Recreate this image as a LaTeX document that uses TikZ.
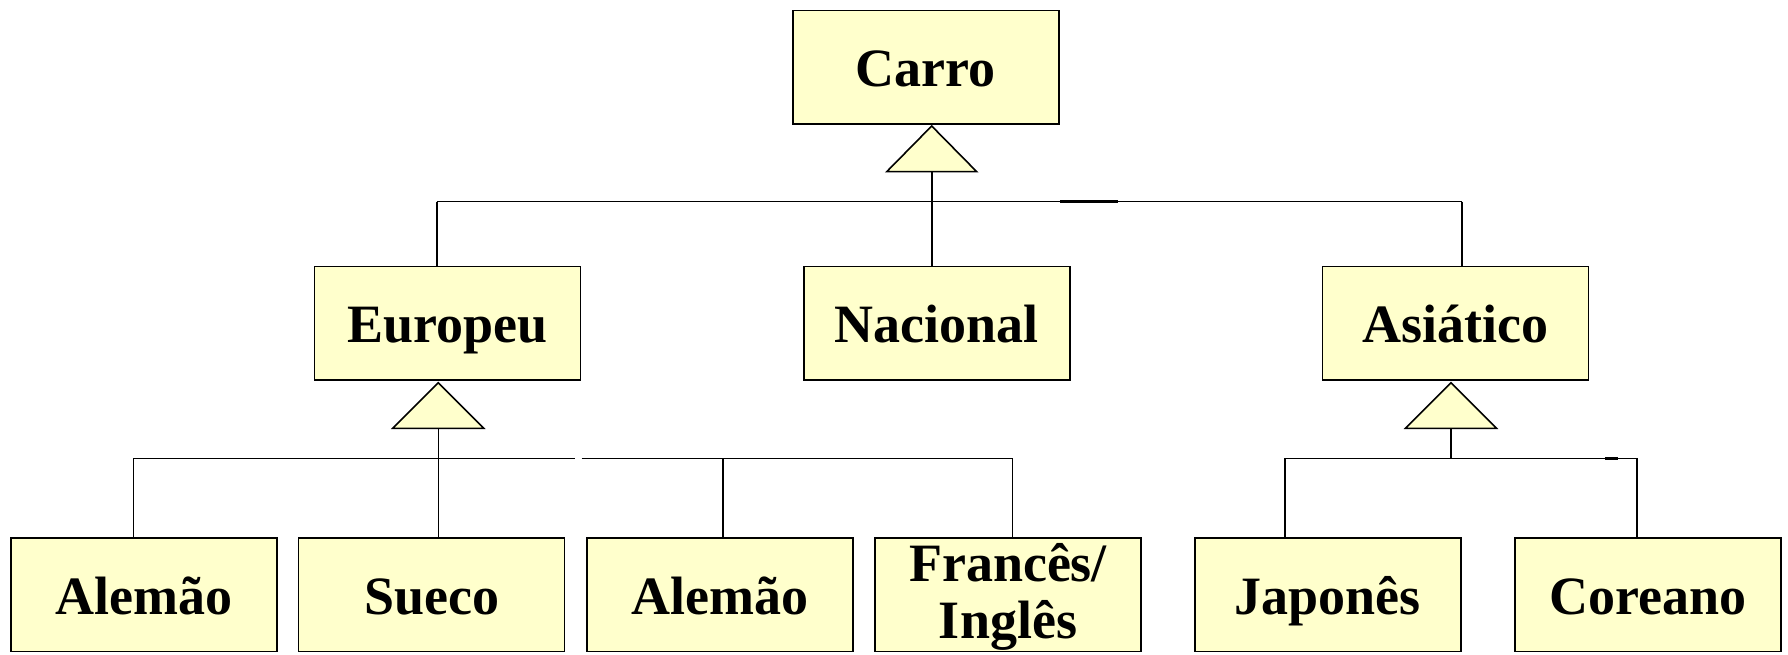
\documentclass[tikz,border=0pt]{standalone}
\usepackage{fontspec}
\setmainfont{Liberation Serif}
\definecolor{boxfill}{HTML}{FFFFCC}
\begin{document}
\begin{tikzpicture}[x=1pt,y=-1pt,
  cls/.style={draw=black,fill=boxfill,line width=1.6pt,minimum width=266pt,minimum height=113.5pt,inner sep=0pt,
    font=\fontsize{54}{57}\selectfont\bfseries,text height=39pt,text depth=0pt},
  tri/.style={draw=black,fill=boxfill,line width=1.6pt,line join=miter},
  lnk/.style={draw=black,line width=1.6pt},
  lnkdark/.style={draw=black,line width=2.6pt}]
\useasboundingbox (0,0) rectangle (1788,655);
% classes
\node[cls] (carro) at (925.8,67.2) {Carro};
\node[cls] (eur) at (447.5,323.2) {Europeu};
\node[cls] (nac) at (936.8,323.2) {Nacional};
\node[cls] (asi) at (1455.5,323.2) {Asiático};
\node[cls] (al1) at (144.2,594.7) {Alemão};
\node[cls] (sue) at (431.6,594.7) {Sueco};
\node[cls] (al2) at (720.1,594.7) {Alemão};
\node[cls] (fra) at (1008,594.7) {};
\node[font=\fontsize{54}{57}\selectfont\bfseries,align=center,inner sep=0pt] (fratxt) at (1008,597) {Francês/\\Inglês};
\node[cls] (jap) at (1327.9,594.7) {Japonês};
\node[cls] (cor) at (1648.2,594.7) {Coreano};
% generalisation 1
\coordinate (t1) at (931.7,126);
\coordinate (t1b) at (931.7,171.7);
\coordinate (b1L) at (436.7,201.7);
\coordinate (b1R) at (1461.9,201.7);
\draw[lnk] (b1L) -- (b1R);
\draw[lnkdark] (1060,201.7) -- (1118,201.7);
\draw[lnk] (b1L) -- (b1L |- eur.north);
\draw[lnk] (b1R) -- (b1R |- asi.north);
\draw[lnk] (t1b) -- (t1b |- nac.north);
\draw[tri] (t1) -- ++(45,45.7) -- ++(-90,0) -- cycle;
% generalisation 2
\coordinate (t2) at (438.3,382.7);
\coordinate (t2b) at (438.3,428.3);
\coordinate (b2L) at (133.4,458.3);
\coordinate (b2M) at (574.7,458.3);
\coordinate (b2N) at (581.6,458.3);
\coordinate (b2R) at (1012.6,458.3);
\coordinate (b2C) at (723,458.3);
\draw[lnk] (b2L) -- (b2M);
\draw[lnk] (b2N) -- (b2R);
\draw[lnk] (b2L) -- (b2L |- al1.north);
\draw[lnk] (t2b) -- (t2b |- sue.north);
\draw[lnk] (b2C) -- (b2C |- al2.north);
\draw[lnk] (b2R) -- (b2R |- fra.north);
\draw[tri] (t2) -- ++(45.5,45.6) -- ++(-91,0) -- cycle;
% generalisation 3
\coordinate (t3) at (1451,382.7);
\coordinate (t3b) at (1451,428.3);
\coordinate (b3) at (1451,458.3);
\coordinate (b3L) at (1285,458.3);
\coordinate (b3R) at (1636.7,458.3);
\draw[lnk] (b3L) -- (b3R);
\draw[lnkdark] (1605,458.3) -- (1618.3,458.3);
\draw[lnk] (t3b) -- (b3);
\draw[lnk] (b3L) -- (b3L |- jap.north);
\draw[lnk] (b3R) -- (b3R |- cor.north);
\draw[tri] (t3) -- ++(45.5,45.6) -- ++(-91,0) -- cycle;
\end{tikzpicture}
\end{document}
